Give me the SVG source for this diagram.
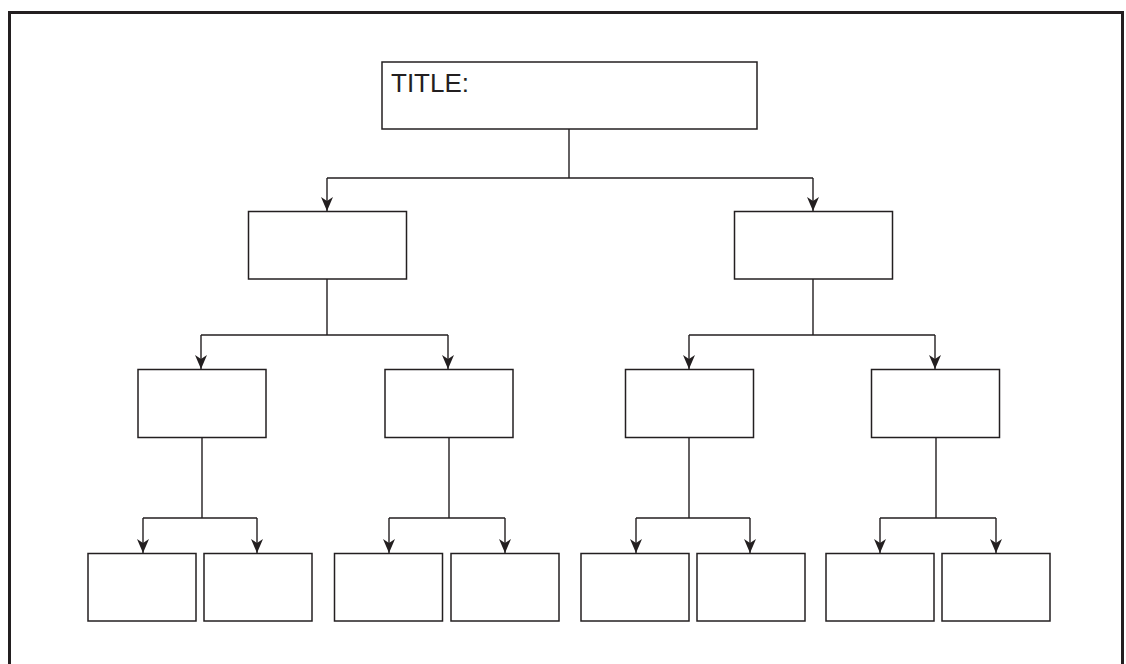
<svg xmlns="http://www.w3.org/2000/svg" width="1126" height="664" viewBox="0 0 1126 664">
<defs>
<style>
.box{fill:#fff;stroke:#231f20;stroke-width:1.5}
.ln{fill:none;stroke:#231f20;stroke-width:1.4}
.t{font-family:"Liberation Sans",Arial,sans-serif;font-size:26px;fill:#231f20}
</style>
<marker id="ah" viewBox="0 0 14 12" markerWidth="14" markerHeight="12" refX="14" refY="6" orient="auto" markerUnits="userSpaceOnUse">
<path d="M0,0 L14,6 L0,12 L4,6 Z" fill="#231f20"/>
</marker>
</defs>
<rect width="1126" height="664" fill="#fff"/>
<path d="M9.5,664 V12.5 H1122.5 V664" fill="none" stroke="#231f20" stroke-width="3"/>
<g id="connectors">
<path class="ln" d="M569,129 V178 M327,178 H813" />
<path class="ln" d="M327,178 V211" marker-end="url(#ah)"/>
<path class="ln" d="M813,178 V211" marker-end="url(#ah)"/>
<path class="ln" d="M327,279 V335 M201,335 H448 M813,279 V335 M689,335 H935"/>
<path class="ln" d="M201,335 V369" marker-end="url(#ah)"/>
<path class="ln" d="M448,335 V369" marker-end="url(#ah)"/>
<path class="ln" d="M689,335 V369" marker-end="url(#ah)"/>
<path class="ln" d="M935,335 V369" marker-end="url(#ah)"/>
<path class="ln" d="M202,437 V518 M143,518 H257 M449,437 V518 M389,518 H505 M689,437 V518 M636,518 H750 M936,437 V518 M880,518 H996"/>
<path class="ln" d="M143,518 V553" marker-end="url(#ah)"/>
<path class="ln" d="M257,518 V553" marker-end="url(#ah)"/>
<path class="ln" d="M389,518 V553" marker-end="url(#ah)"/>
<path class="ln" d="M505,518 V553" marker-end="url(#ah)"/>
<path class="ln" d="M636,518 V553" marker-end="url(#ah)"/>
<path class="ln" d="M750,518 V553" marker-end="url(#ah)"/>
<path class="ln" d="M880,518 V553" marker-end="url(#ah)"/>
<path class="ln" d="M996,518 V553" marker-end="url(#ah)"/>
</g>
<g id="title"><rect class="box" x="382" y="62" width="375" height="67"/><text class="t" x="391" y="92">TITLE:</text></g>
<g id="n2a"><rect class="box" x="248.5" y="211.5" width="158" height="67.5"/></g>
<g id="n2b"><rect class="box" x="734.5" y="211.5" width="158" height="67.5"/></g>
<g id="n3a"><rect class="box" x="138" y="369.5" width="128" height="68"/></g>
<g id="n3b"><rect class="box" x="385" y="369.5" width="128" height="68"/></g>
<g id="n3c"><rect class="box" x="625.5" y="369.5" width="128" height="68"/></g>
<g id="n3d"><rect class="box" x="871.5" y="369.5" width="128" height="68"/></g>
<g id="n4a"><rect class="box" x="88" y="553.5" width="108" height="67.5"/></g>
<g id="n4b"><rect class="box" x="204" y="553.5" width="108" height="67.5"/></g>
<g id="n4c"><rect class="box" x="334.5" y="553.5" width="108" height="67.5"/></g>
<g id="n4d"><rect class="box" x="451" y="553.5" width="108" height="67.5"/></g>
<g id="n4e"><rect class="box" x="581" y="553.5" width="108" height="67.5"/></g>
<g id="n4f"><rect class="box" x="697" y="553.5" width="108" height="67.5"/></g>
<g id="n4g"><rect class="box" x="826" y="553.5" width="108" height="67.5"/></g>
<g id="n4h"><rect class="box" x="942" y="553.5" width="108" height="67.5"/></g>
</svg>
